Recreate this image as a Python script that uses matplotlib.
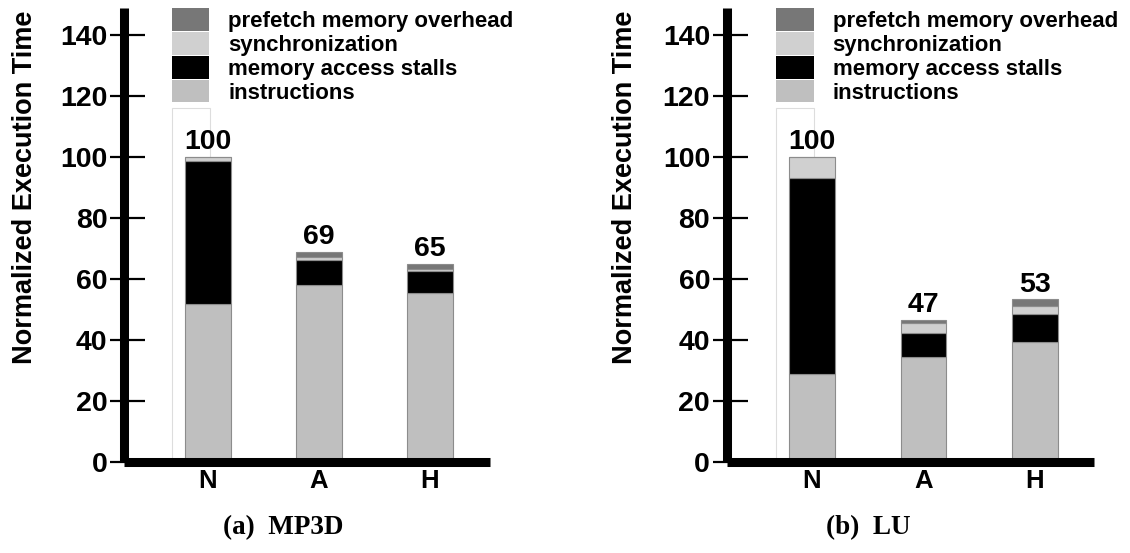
import matplotlib
matplotlib.use("Agg")
import matplotlib.pyplot as plt
from matplotlib.patches import Patch, Rectangle
from matplotlib.ticker import FixedLocator

# ---------------- data ----------------
configs = ["N", "A", "H"]
series = ["instructions", "memory access stalls", "synchronization", "prefetch memory overhead"]
COLORS = ["#bfbfbf", "#000000", "#d0d0d0", "#777777"]

mp3d_instr = [51.7, 57.9, 55.4]
mp3d_mem = [47.0, 8.5, 7.3]
mp3d_sync = [1.3, 0.7, 0.5]
mp3d_pref = [0.0, 1.8, 1.9]
mp3d_labels = ["100", "69", "65"]

lu_instr = [28.7, 34.4, 39.3]
lu_mem = [64.5, 7.8, 9.1]
lu_sync = [6.8, 3.4, 2.9]
lu_pref = [0.0, 1.1, 2.0]
lu_labels = ["100", "47", "53"]

yticks = [0, 20, 40, 60, 80, 100, 120, 140]
# --------------------------------------

SANS = "Liberation Sans"
SERIF = "Liberation Serif"
W, H = 1130, 553

fig = plt.figure(figsize=(W / 100, H / 100), dpi=100)


def panel(rect, xlim, comps, labels, legx, ylab_x, caption, cap_x):
    ax = fig.add_axes(rect)
    x = list(range(len(configs)))
    bottom = [0.0] * len(configs)
    for vals, col in zip(comps, COLORS):
        ax.bar(x, vals, width=0.41, bottom=bottom, color=col,
               edgecolor="#8c8c8c", linewidth=0.8, zorder=1)
        bottom = [b + v for b, v in zip(bottom, vals)]
    for xi, tot, lab in zip(x, bottom, labels):
        ax.text(xi, tot + 0.6, lab, ha="center", va="bottom",
                fontsize=20.5, fontweight="bold", family=SANS)

    ax.set_xlim(*xlim)
    ax.set_ylim(0, 149)
    for s in ("top", "right"):
        ax.spines[s].set_visible(False)
    for s in ("left", "bottom"):
        ax.spines[s].set_linewidth(6.5)
        ax.spines[s].set_capstyle("butt")

    ax.set_yticks(yticks)
    ax.yaxis.set_minor_locator(FixedLocator(yticks))
    ax.yaxis.remove_overlapping_locs = False
    ax.tick_params(axis="y", which="major", direction="out", length=10, width=1.6,
                   pad=2, labelsize=20.5)
    ax.tick_params(axis="y", which="minor", direction="in", length=15, width=1.6)
    ax.set_xticks(x)
    ax.set_xticklabels(configs)
    ax.tick_params(axis="x", length=0, pad=5, labelsize=18.5)
    for t in ax.get_xticklabels() + ax.get_yticklabels():
        t.set_fontweight("bold")
        t.set_family(SANS)

    ax.set_ylabel("Normalized Execution Time", fontsize=19.5, fontweight="bold", family=SANS)
    ax.yaxis.set_label_coords(ylab_x, 0.605)

    # faint box left behind the legend swatches
    ax.add_patch(Rectangle((legx, 0), 0.105, 0.78, transform=ax.transAxes,
                           facecolor="none", edgecolor="#dddddd", linewidth=0.8, zorder=0.5))

    handles = [Patch(facecolor=c, edgecolor="none", label=s)
               for s, c in zip(series, COLORS)][::-1]
    ax.legend(handles=handles, loc="upper left", bbox_to_anchor=(legx, 1.0),
              frameon=False, borderpad=0, borderaxespad=0, labelspacing=0,
              handlelength=1.7, handleheight=1.2, handletextpad=0.85,
              prop={"family": SANS, "weight": "bold", "size": 16})

    fig.text(cap_x / W, 1 - 528 / H, caption, ha="center", va="center",
             fontsize=19.5, fontweight="bold", family=SERIF)
    return ax


panel([124 / W, 0.165, 366 / W, 0.8205], (-0.757, 2.54),
      [mp3d_instr, mp3d_mem, mp3d_sync, mp3d_pref], mp3d_labels,
      0.130, -0.235, "(a)  MP3D", 283)
panel([726.7 / W, 0.165, 367.3 / W, 0.8205], (-0.765, 2.53),
      [lu_instr, lu_mem, lu_sync, lu_pref], lu_labels,
      0.134, -0.242, "(b)  LU", 868)

fig.savefig("out.png", dpi=100)
